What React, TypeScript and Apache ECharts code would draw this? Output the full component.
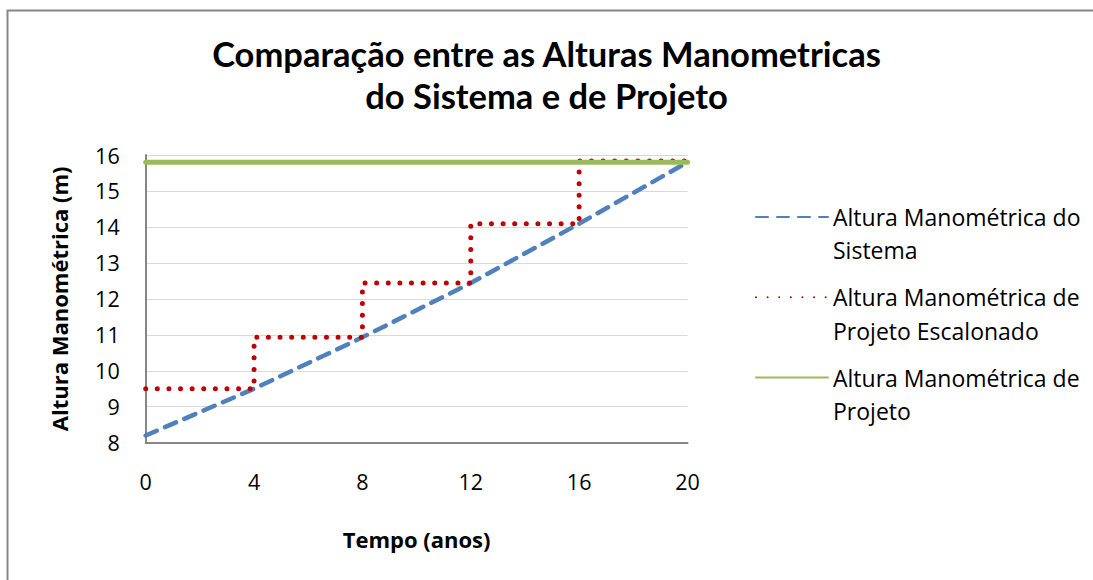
import React, { useEffect, useRef } from "react";
import * as echarts from "echarts";

const years = [0, 4, 8, 12, 16, 20];
const sistema = [8.2, 9.5, 10.93, 12.44, 14.09, 15.8];
const escalonadoSteps = [9.5, 10.93, 12.44, 14.09, 15.83];
const projetoYears = [0, 20];
const projeto = [15.8, 15.8];
const xTicks = [0, 4, 8, 12, 16, 20];

const seriesNames = [
  "Altura Manométrica do Sistema",
  "Altura Manométrica de Projeto Escalonado",
  "Altura Manométrica de Projeto",
];
const legendLines: Record<string, string> = {
  "Altura Manométrica do Sistema": "Altura Manométrica do\nSistema",
  "Altura Manométrica de Projeto Escalonado": "Altura Manométrica de\nProjeto Escalonado",
  "Altura Manométrica de Projeto": "Altura Manométrica de\nProjeto",
};

const TITLE_FONT = "Lato";
const FONT = "Open Sans";

export default function App() {
  const ref = useRef<HTMLDivElement>(null);
  useEffect(() => {
    if (!ref.current) return;
    const chart = echarts.init(ref.current, undefined, { renderer: "svg" });
    const stepData: number[][] = [];
    escalonadoSteps.forEach((v, i) => {
      stepData.push([years[i], v]);
      stepData.push([years[i + 1], v]);
    });
    chart.setOption({
      animation: false,
      backgroundColor: "#ffffff",
      textStyle: { fontFamily: FONT },
      title: {
        text: "Comparação entre as Alturas Manometricas\ndo Sistema e de Projeto",
        left: "center",
        top: 32,
        padding: [0, 0, 0, 15],
        textStyle: {
          fontFamily: TITLE_FONT,
          fontWeight: "bold",
          fontSize: 34.5,
          lineHeight: 42,
          color: "#000",
        },
      },
      legend: {
        orient: "vertical",
        left: 755,
        top: 167,
        padding: 0,
        itemGap: -19.6,
        itemWidth: 72,
        itemHeight: 14,
        selectedMode: false,
        data: seriesNames,
        itemStyle: { color: "transparent", borderColor: "transparent", borderWidth: 0, opacity: 0 },
        formatter: (name: string) => "\n" + (legendLines[name] || name),
        textStyle: {
          fontFamily: FONT,
          fontSize: 23,
          lineHeight: 33.3,
          color: "#000",
        },
      },
      grid: { left: 145.7, right: 405.5, top: 155, bottom: 137.3, containLabel: false },
      xAxis: {
        type: "value",
        min: 0,
        max: 20,
        interval: 4,
        name: "Tempo (anos)",
        nameLocation: "middle",
        nameGap: 85,
        nameTextStyle: { fontFamily: FONT, fontWeight: "bold", fontSize: 22, color: "#000" },
        axisLine: { show: true, lineStyle: { color: "#868686", width: 2 } },
        axisTick: { show: false },
        splitLine: { show: false },
        axisLabel: {
          margin: 28,
          fontFamily: FONT,
          fontSize: 21.5,
          color: "#000",
          formatter: (v: number) => (xTicks.includes(v) ? String(v) : ""),
        },
      },
      yAxis: {
        type: "value",
        min: 8,
        max: 16,
        interval: 1,
        name: "Altura Manométrica (m)",
        nameLocation: "middle",
        nameGap: 76,
        nameTextStyle: { fontFamily: FONT, fontWeight: "bold", fontSize: 22, color: "#000" },
        axisLine: { show: true, lineStyle: { color: "#868686", width: 2 } },
        axisTick: { show: false },
        splitLine: { show: true, lineStyle: { color: "#D9D9D9", width: 1 } },
        axisLabel: { margin: 26, fontFamily: FONT, fontSize: 21.5, color: "#000" },
      },
      graphic: [
        {
          type: "rect",
          shape: { x: 7.5, y: 10.5, width: 1100, height: 600 },
          style: { fill: "none", stroke: "#878787", lineWidth: 2 },
          silent: true,
        },
      ],
      series: [
        {
          name: seriesNames[0],
          type: "line",
          data: years.map((x, i) => [x, sistema[i]]),
          symbol: "none",
          lineStyle: { color: "#4F81BD", width: 4.5, type: [12, 9], cap: "round" },
          itemStyle: { color: "#4F81BD" },
          z: 2,
        },
        {
          name: seriesNames[1],
          type: "line",
          data: stepData,
          symbol: "none",
          lineStyle: { color: "#C00000", width: 5, type: [0.01, 11.6], cap: "round" },
          itemStyle: { color: "#C00000" },
          z: 3,
        },
        {
          name: seriesNames[2],
          type: "line",
          data: projetoYears.map((x, i) => [x, projeto[i]]),
          symbol: "none",
          lineStyle: { color: "#9BBB59", width: 5, cap: "round" },
          itemStyle: { color: "#9BBB59" },
          z: 4,
        },
      ],
    });
    return () => chart.dispose();
  }, []);
  return (
    <div
      ref={ref}
      style={{ position: "fixed", left: 0, top: 0, width: 1093, height: 580 }}
    />
  );
}
